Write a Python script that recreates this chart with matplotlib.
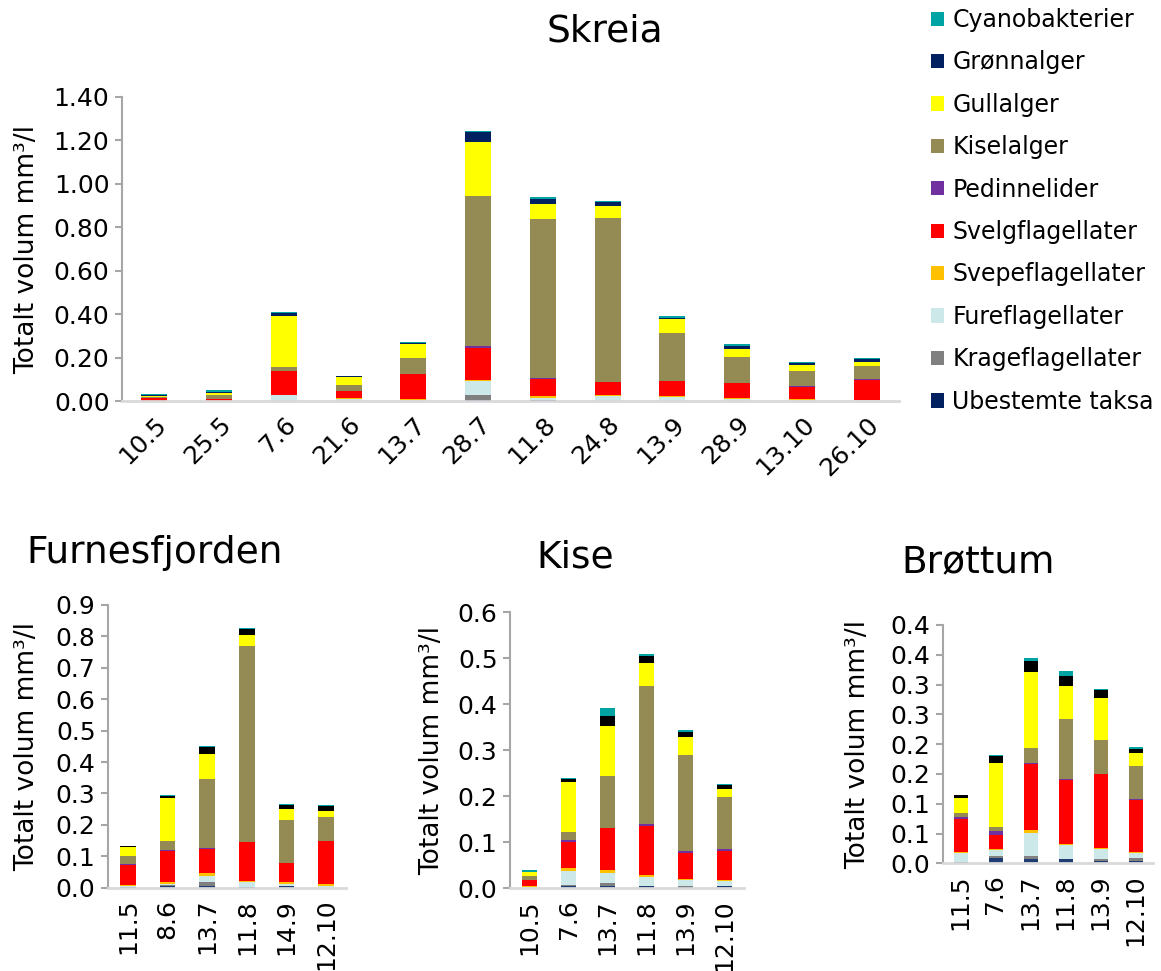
import math
import numpy as np
import matplotlib
matplotlib.use("Agg")
import matplotlib.pyplot as plt
from matplotlib.ticker import FixedLocator, FuncFormatter
from matplotlib.patches import Patch

plt.rcParams['font.family'] = ['DejaVu Sans']

# ---------------- data ----------------
categories = ["Ubestemte taksa", "Krageflagellater", "Fureflagellater", "Svepeflagellater",
              "Svelgflagellater", "Pedinnelider", "Kiselalger", "Gullalger", "Grønnalger",
              "Cyanobakterier"]

# Skreia
skreia_dates = ["10.5", "25.5", "7.6", "21.6", "13.7", "28.7", "11.8", "24.8", "13.9", "28.9", "13.10", "26.10"]
skreia_ubestemte = [0, 0, 0, 0, 0, 0.006, 0.005, 0, 0, 0, 0, 0]
skreia_krage = [0, 0, 0, 0, 0, 0.023, 0.002, 0.003, 0, 0, 0, 0]
skreia_fure = [0.002, 0.001, 0.028, 0.010, 0.008, 0.064, 0.010, 0.020, 0.021, 0.010, 0.008, 0.005]
skreia_svepe = [0.001, 0.001, 0.003, 0.003, 0.003, 0.005, 0.006, 0.004, 0.005, 0.004, 0.002, 0.003]
skreia_svelg = [0.011, 0.010, 0.110, 0.035, 0.115, 0.147, 0.081, 0.060, 0.067, 0.070, 0.055, 0.092]
skreia_pedin = [0, 0, 0, 0, 0.001, 0.010, 0.002, 0, 0, 0.001, 0.005, 0.002]
skreia_kisel = [0.006, 0.017, 0.018, 0.027, 0.070, 0.688, 0.730, 0.755, 0.219, 0.119, 0.069, 0.060]
skreia_gull = [0.006, 0.011, 0.234, 0.038, 0.066, 0.251, 0.069, 0.054, 0.064, 0.037, 0.026, 0.020]
skreia_gronn = [0.003, 0.004, 0.012, 0.002, 0.005, 0.043, 0.027, 0.021, 0.009, 0.012, 0.009, 0.011]
skreia_cyano = [0.005, 0.006, 0.005, 0.001, 0.004, 0.005, 0.005, 0.005, 0.005, 0.009, 0.005, 0.006]

# Furnesfjorden
furnes_dates = ["11.5", "8.6", "13.7", "11.8", "14.9", "12.10"]
furnes_ubestemte = [0.002, 0.006, 0.006, 0.002, 0.005, 0.0]
furnes_krage = [0.001, 0.003, 0.012, 0.0, 0.001, 0.0]
furnes_fure = [0.003, 0.004, 0.020, 0.017, 0.006, 0.007]
furnes_svepe = [0.003, 0.005, 0.008, 0.002, 0.006, 0.004]
furnes_svelg = [0.064, 0.100, 0.077, 0.125, 0.060, 0.138]
furnes_pedin = [0.001, 0.001, 0.004, 0.001, 0.0, 0.0]
furnes_kisel = [0.027, 0.029, 0.220, 0.622, 0.136, 0.076]
furnes_gull = [0.028, 0.136, 0.080, 0.035, 0.037, 0.019]
furnes_gronn = [0.004, 0.008, 0.021, 0.021, 0.011, 0.015]
furnes_cyano = [0.001, 0.003, 0.004, 0.003, 0.004, 0.004]

# Kise
kise_dates = ["10.5", "7.6", "13.7", "11.8", "13.9", "12.10"]
kise_ubestemte = [0.0, 0.005, 0.005, 0.005, 0.0035, 0.005]
kise_krage = [0.0, 0.003, 0.0065, 0.0, 0.002, 0.0]
kise_fure = [0.002, 0.030, 0.021, 0.020, 0.012, 0.010]
kise_svepe = [0.002, 0.0065, 0.007, 0.003, 0.003, 0.003]
kise_svelg = [0.0145, 0.057, 0.091, 0.107, 0.057, 0.064]
kise_pedin = [0.0, 0.004, 0.0015, 0.004, 0.004, 0.003]
kise_kisel = [0.009, 0.017, 0.112, 0.300, 0.209, 0.114]
kise_gull = [0.009, 0.108, 0.108, 0.050, 0.038, 0.016]
kise_gronn = [0.0, 0.008, 0.022, 0.017, 0.012, 0.009]
kise_cyano = [0.003, 0.002, 0.019, 0.003, 0.003, 0.003]

# Brøttum
brottum_dates = ["11.5", "7.6", "13.7", "11.8", "13.9", "12.10"]
brottum_ubestemte = [0.002, 0.0095, 0.008, 0.007, 0.0035, 0.004]
brottum_krage = [0.0, 0.003, 0.0045, 0.0, 0.003, 0.0045]
brottum_fure = [0.015, 0.010, 0.038, 0.023, 0.018, 0.008]
brottum_svepe = [0.002, 0.002, 0.0055, 0.002, 0.001, 0.002]
brottum_svelg = [0.056, 0.023, 0.110, 0.107, 0.124, 0.088]
brottum_pedin = [0.002, 0.007, 0.002, 0.003, 0.0, 0.001]
brottum_kisel = [0.007, 0.006, 0.026, 0.100, 0.058, 0.056]
brottum_gull = [0.026, 0.108, 0.127, 0.056, 0.070, 0.022]
brottum_gronn = [0.004, 0.012, 0.018, 0.017, 0.013, 0.006]
brottum_cyano = [0.001, 0.002, 0.006, 0.008, 0.002, 0.003]

# ---------------- styles ----------------
colors_main = ["#002060", "#808080", "#CCE8E8", "#FFC000", "#FF0000", "#7030A0",
               "#948A54", "#FFFF00", "#002060", "#00A3A3"]
colors_small = ["#1F3D73", "#808080", "#CCE8E8", "#FFC000", "#FF0000", "#7030A0",
                "#948A54", "#FFFF00", "#000000", "#00A3A3"]

W, H = 1161, 971
TICK_FS = 18
LABEL_FS = 19
TITLE_FS = 27

fig = plt.figure(figsize=(W / 100, H / 100), dpi=100)

def px_axes(left, top, right, bottom):
    return fig.add_axes([left / W, 1 - bottom / H, (right - left) / W, (bottom - top) / H])

def draw(ax, dates, series, colors, ymax, step, fmt, rot, label_x, left, right):
    x = np.arange(len(dates))
    bottom = np.zeros(len(dates))
    for vals, c in zip(series, colors):
        v = np.array(vals, dtype=float)
        ax.bar(x, v, width=0.4, bottom=bottom, color=c, edgecolor='none', linewidth=0)
        bottom += v
    ax.set_xlim(-0.5, len(dates) - 0.5)
    ax.set_ylim(0, ymax)
    ticks = np.round(np.arange(0, ymax + step / 2, step), 4)
    ax.yaxis.set_major_locator(FixedLocator(ticks))
    ax.yaxis.set_major_formatter(FuncFormatter(fmt))
    ax.set_xticks(x)
    if rot == 45:
        ax.set_xticklabels(dates, rotation=45, ha='right', va='top', rotation_mode='anchor')
    else:
        ax.set_xticklabels(dates, rotation=90, ha='center', va='top')
    for s in ['top', 'right']:
        ax.spines[s].set_visible(False)
    ax.spines['left'].set_color('#A6A6A6')
    ax.spines['left'].set_linewidth(1.5)
    ax.spines['bottom'].set_color('#D9D9D9')
    ax.spines['bottom'].set_linewidth(2)
    ax.tick_params(axis='y', direction='out', length=5, width=1.5, color='#A6A6A6',
                   labelsize=TICK_FS, pad=4)
    ax.tick_params(axis='x', length=0, labelsize=TICK_FS, pad=8)
    ax.set_ylabel("Totalt volum mm³/l", fontsize=LABEL_FS, va='center')
    ax.yaxis.set_label_coords((label_x - left) / (right - left), 0.5)

fmt2 = lambda v, p: f"{v:.2f}"
fmt1 = lambda v, p: f"{v:.1f}"
fmt_round = lambda v, p: f"{math.floor(v * 10 + 0.5 + 1e-9) / 10:.1f}"

ax1 = px_axes(122, 96.7, 899, 401.3)
draw(ax1, skreia_dates,
     [skreia_ubestemte, skreia_krage, skreia_fure, skreia_svepe, skreia_svelg, skreia_pedin,
      skreia_kisel, skreia_gull, skreia_gronn, skreia_cyano],
     colors_main, 1.4, 0.2, fmt2, 45, 27, 122, 899)

ax2 = px_axes(108, 605, 346, 887.7)
draw(ax2, furnes_dates,
     [furnes_ubestemte, furnes_krage, furnes_fure, furnes_svepe, furnes_svelg, furnes_pedin,
      furnes_kisel, furnes_gull, furnes_gronn, furnes_cyano],
     colors_small, 0.9, 0.1, fmt1, 90, 27, 108, 346)

ax3 = px_axes(510, 612.3, 744, 888.3)
draw(ax3, kise_dates,
     [kise_ubestemte, kise_krage, kise_fure, kise_svepe, kise_svelg, kise_pedin,
      kise_kisel, kise_gull, kise_gronn, kise_cyano],
     colors_small, 0.6, 0.1, fmt1, 90, 432, 510, 744)

ax4 = px_axes(943, 625, 1153, 863.3)
draw(ax4, brottum_dates,
     [brottum_ubestemte, brottum_krage, brottum_fure, brottum_svepe, brottum_svelg, brottum_pedin,
      brottum_kisel, brottum_gull, brottum_gronn, brottum_cyano],
     colors_small, 0.4, 0.05, fmt_round, 90, 858, 943, 1153)

# titles
fig.text(605 / W, 1 - 32 / H, "Skreia", fontsize=TITLE_FS, ha='center', va='center')
fig.text(155 / W, 1 - 553 / H, "Furnesfjorden", fontsize=TITLE_FS, ha='center', va='center')
fig.text(575 / W, 1 - 558 / H, "Kise", fontsize=TITLE_FS, ha='center', va='center')
fig.text(978 / W, 1 - 562 / H, "Brøttum", fontsize=TITLE_FS, ha='center', va='center')

# legend (top to bottom = reverse stacking order)
handles = [Patch(facecolor=c, edgecolor='none', label=l)
           for c, l in zip(colors_main[::-1], categories[::-1])]
fig.legend(handles=handles, loc='upper left', bbox_to_anchor=(931 / W, 1 - 8 / H),
           frameon=False, fontsize=17, handlelength=0.55, handleheight=0.55,
           handletextpad=0.35, labelspacing=0.78, borderpad=0, borderaxespad=0)

fig.savefig("out.png", dpi=100)
